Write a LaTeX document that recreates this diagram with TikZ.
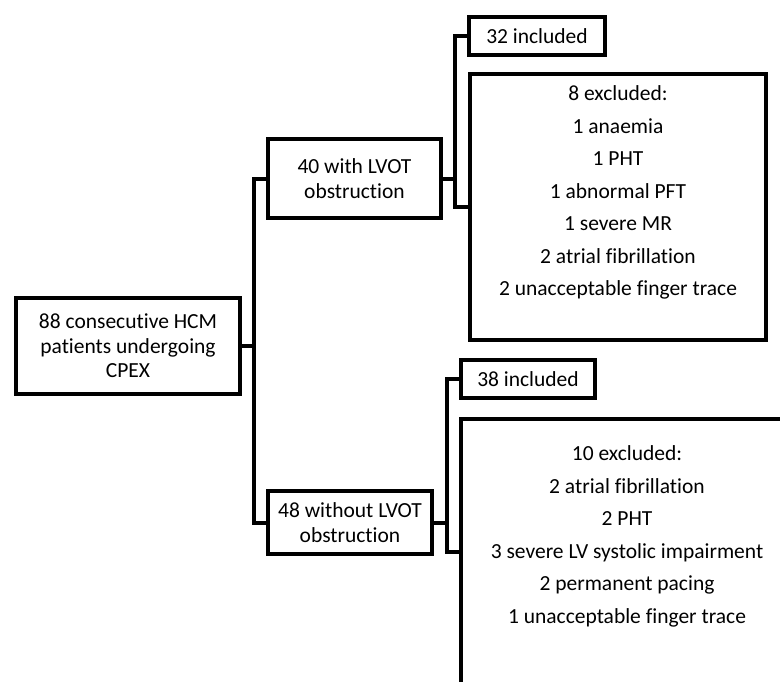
\documentclass[tikz,border=0pt]{standalone}
\usepackage{fontspec}
\setmainfont{Carlito}[Ligatures=NoCommon]
\begin{document}
\begin{tikzpicture}[x=1pt, y=-1pt, line width=4pt,
  box/.style={draw, rectangle, outer sep=0pt, inner sep=2pt, align=center, font=\fontsize{21.5}{24.5}\selectfont}]
  \useasboundingbox (0,0) rectangle (780,681);
  \clip (0,0) rectangle (780,681);
  % all patients
  \node[box, minimum width=224pt, minimum height=96pt] (root) at (128,346) {88 consecutive HCM\\patients undergoing\\CPEX};
  % split by LVOT obstruction
  \node[box, minimum width=173pt, minimum height=79pt] (lvot) at (354.5,178.5) {40 with LVOT\\obstruction};
  \node[box, minimum width=164pt, minimum height=63pt] (nolvot) at (350,522.5) {48 without LVOT\\obstruction};
  % with LVOT obstruction
  \node[box, minimum width=136pt, minimum height=38pt] (inc1) at (537,36) {32 included};
  \node[box, minimum width=296pt, minimum height=266pt] (exc1) at (618,207) {8 excluded:\\[8pt]1 anaemia\\[8pt]1 PHT\\[8pt]1 abnormal PFT\\[8pt]1 severe MR\\[8pt]2 atrial fibrillation\\[8pt]2 unacceptable finger trace\\[8pt]\mbox{}};
  % without LVOT obstruction (box runs off the page)
  \node[box, minimum width=134pt, minimum height=38pt] (inc2) at (528,379) {38 included};
  \node[box, anchor=north west, minimum width=332pt, inner ysep=27pt] (exc2) at (461,419) {10 excluded:\\[8pt]2 atrial fibrillation\\[8pt]2 PHT\\[8pt]3 severe LV systolic impairment\\[8pt]2 permanent pacing\\[8pt]1 unacceptable finger trace\\[60pt]\mbox{}};
  % connectors
  \draw (root.east) -- ++(14,0);
  \draw (lvot.west) -- ++(-14,0) |- (nolvot.west);
  \draw (lvot.east) -- ++(14,0);
  \draw (inc1.west) -- ++(-14,0) |- (exc1.west);
  \draw (nolvot.east) -- ++(15,0);
  \draw (inc2.west) -- ++(-14,0) |- ([yshift=-133pt]exc2.north west);
\end{tikzpicture}
\end{document}
